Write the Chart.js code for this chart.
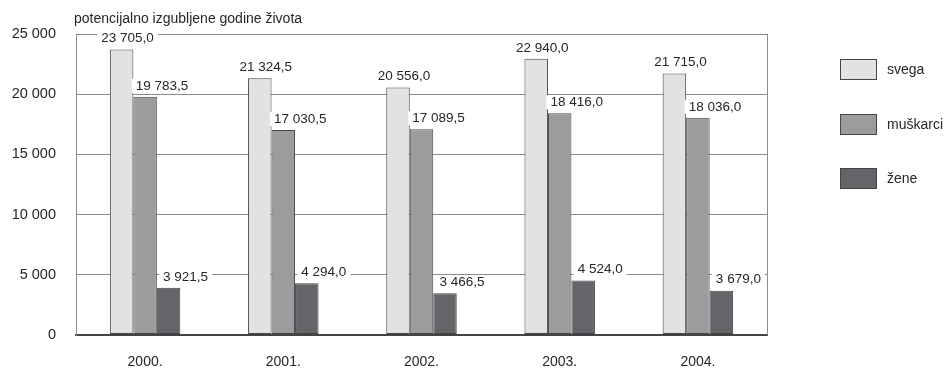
<!DOCTYPE html>
<html>
<head>
<meta charset="utf-8">
<script src="https://cdn.jsdelivr.net/npm/chart.js@4/dist/chart.umd.min.js"></script>
<style>
  html, body { margin: 0; padding: 0; background: #fff; }
  #wrap { width: 947px; height: 369px; position: relative; }
</style>
</head>
<body>
<div id="wrap"><canvas id="c"></canvas></div>
<script>
const YEARS     = ['2000.', '2001.', '2002.', '2003.', '2004.'];
const SVEGA     = [23705.0, 21324.5, 20556.0, 22940.0, 21715.0];
const MUSKARCI  = [19783.5, 17030.5, 17089.5, 18416.0, 18036.0];
const ZENE      = [3921.5, 4294.0, 3466.5, 4524.0, 3679.0];
const Y_TICKS   = [0, 5000, 10000, 15000, 20000, 25000];
const Y_TITLE   = 'potencijalno izgubljene godine života';

const FONT = "'Liberation Sans', Arial, sans-serif";
const TEXT = '#262626';
const EDGE = '#454545';

// 23705 -> "23 705,0", 25000 -> "25 000"
function fmt(v, dec) {
  const s = v.toFixed(dec).split('.');
  const int = s[0].replace(/\B(?=(\d{3})+(?!\d))/g, ' ');
  return dec ? `${int},${s[1]}` : int;
}

// ── Plugins ───────────────────────────────────────────────────────────────────

const frame = {
  id: 'frame',
  beforeDatasetsDraw(chart) {
    const { ctx, chartArea: a } = chart;
    ctx.save();
    ctx.strokeStyle = '#8c8c8c';
    ctx.lineWidth = 1;
    ctx.beginPath();
    ctx.moveTo(a.right + 0.5, a.top);
    ctx.lineTo(a.right + 0.5, a.bottom);
    ctx.stroke();
    ctx.restore();
  },
  afterDraw(chart) {
    const { ctx, chartArea: a } = chart;
    ctx.save();
    ctx.font = `14px ${FONT}`;
    ctx.fillStyle = TEXT;
    ctx.textBaseline = 'middle';
    ctx.textAlign = 'left';
    ctx.fillText(Y_TITLE, a.left - 2, 19);
    ctx.restore();
  },
};

const valueLabels = {
  id: 'valueLabels',
  afterDatasetsDraw(chart) {
    const { ctx } = chart;
    const shift = [6, 17, 17];
    ctx.save();
    ctx.font = `13.5px ${FONT}`;
    ctx.textBaseline = 'middle';
    ctx.textAlign = 'center';
    chart.data.datasets.forEach((ds, di) => {
      chart.getDatasetMeta(di).data.forEach((bar, i) => {
        const txt = fmt(ds.data[i], 1);
        const x = bar.x + shift[di];
        const y = bar.y - 11;
        const w = ctx.measureText(txt).width;
        ctx.fillStyle = '#fff';
        ctx.fillRect(x - w / 2 - 4, y - 7, w + 8, 14);
        ctx.fillStyle = TEXT;
        ctx.fillText(txt, x, y);
      });
    });
    ctx.restore();
  },
};

const sideLegend = {
  id: 'sideLegend',
  afterDraw(chart) {
    const { ctx } = chart;
    const rows = [69, 124, 178];
    ctx.save();
    ctx.font = `14px ${FONT}`;
    ctx.textBaseline = 'middle';
    chart.data.datasets.forEach((ds, i) => {
      const y = rows[i];
      ctx.fillStyle = ds.backgroundColor;
      ctx.fillRect(840, y - 10, 37, 21);
      ctx.strokeStyle = EDGE;
      ctx.lineWidth = 1;
      ctx.strokeRect(840.5, y - 9.5, 36, 20);
      ctx.fillStyle = TEXT;
      ctx.fillText(ds.label, 887, y + 1);
    });
    ctx.restore();
  },
};

// ── Chart ─────────────────────────────────────────────────────────────────────

function dataset(label, data, fill) {
  return {
    label,
    data,
    backgroundColor: fill,
    borderColor: EDGE,
    borderWidth: 1,
    borderSkipped: false,
    barPercentage: 1.0,
    categoryPercentage: 0.51,
  };
}

new Chart(document.getElementById('c'), {
  type: 'bar',
  data: {
    labels: YEARS,
    datasets: [
      dataset('svega', SVEGA, '#e1e2e4'),
      dataset('muškarci', MUSKARCI, '#9b9c9e'),
      dataset('žene', ZENE, '#646568'),
    ],
  },
  options: {
    responsive: true,
    maintainAspectRatio: false,
    animation: false,
    layout: { padding: { left: 0, top: 34, right: 180, bottom: 0 } },
    plugins: {
      legend: { display: false },
      tooltip: { enabled: false },
    },
    scales: {
      x: {
        grid: { display: false, drawTicks: false },
        border: { color: '#444', width: 2 },
        ticks: { color: TEXT, font: { family: FONT, size: 14 }, padding: 19 },
        afterFit: s => { s.height = 34; },
      },
      y: {
        min: 0,
        max: 25000,
        afterBuildTicks: s => { s.ticks = Y_TICKS.map(v => ({ value: v })); },
        grid: {
          drawTicks: false,
          color: c => c.tick.value === 0 ? '#444' : '#8c8c8c',
          lineWidth: c => c.tick.value === 0 ? 2 : 1,
        },
        border: { color: '#8c8c8c', width: 1 },
        ticks: {
          color: TEXT,
          font: { family: FONT, size: 14.5 },
          padding: 20,
          callback: v => fmt(v, 0),
        },
        afterFit: s => { s.width = 76; },
      },
    },
  },
  plugins: [frame, valueLabels, sideLegend],
});
</script>
</body>
</html>
